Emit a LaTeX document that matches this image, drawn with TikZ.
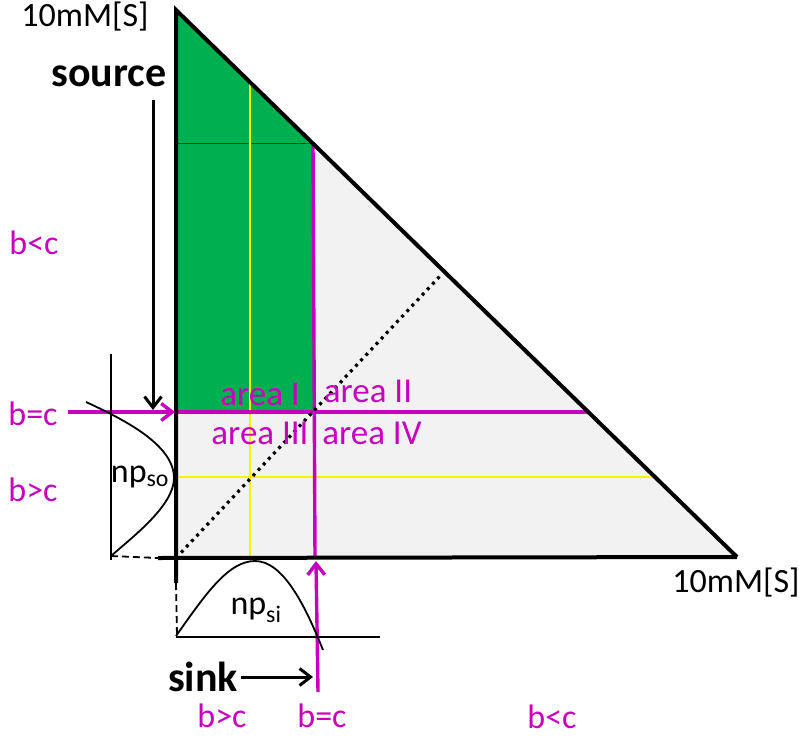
\documentclass[tikz,border=0pt]{standalone}
\usepackage{fontspec}
\setmainfont{Carlito}
\usetikzlibrary{arrows.meta}
\definecolor{areagreen}{RGB}{0,176,80}
\definecolor{bcmag}{RGB}{200,0,190}
\definecolor{lightfill}{RGB}{242,242,242}

\begin{document}
\begin{tikzpicture}[
    x=1pt, y=-1pt,
    every node/.style={font=\fontsize{34}{40}\selectfont, inner sep=0pt},
    ax/.style={line width=4pt},
    dist/.style={line width=1.8pt},
    dsh/.style={dist, dash pattern=on 7pt off 4pt},
    mag/.style={bcmag, line width=3.4pt},
    yel/.style={yellow, line width=2.6pt},
    e/.style={-{Straight Barb[length=11pt, width=17pt]}},
    lbl/.style={text=bcmag},
    area/.style={text=bcmag, font=\fontsize{35}{41}\selectfont},
    big/.style={font=\fontsize{42}{48}\selectfont\bfseries},
  ]
  \useasboundingbox (0,0) rectangle (799,738);

  % corners of the plot
  \coordinate (top) at (176,10);
  \coordinate (org) at (176,558);
  \coordinate (rgt) at (737,557);
  \coordinate (axl) at (158,558);
  \coordinate (axd) at (176,583);

  % fills
  \fill[lightfill] (top) -- (rgt) -- (org) -- cycle;
  \fill[areagreen] (top) -- (313,143.6) -- (313,412) -- (176,412) -- cycle;
  \draw[red!65!black, line width=0.7pt] (176,143.6) -- (313,143.6);

  % threshold lines
  \draw[yel] (250,82.2) -- (250,558);
  \draw[yel] (176,477) -- (655,477);
  \draw[mag] (176,412) -- (588.3,412);
  \draw[mag] (313,143.6) -- (315,558);
  \draw[line width=3.2pt, dash pattern=on 3pt off 4.5pt] (org) -- (441,275);

  % axes and hypotenuse
  \draw[ax, line join=miter] (axd) -- (top) -- (rgt);
  \draw[ax] (axl) -- (rgt);

  % source / sink arrows
  \coordinate (srcA) at (153,100);
  \coordinate (srcB) at (153,410);
  \draw[e, line width=3pt] (srcA) -- (srcB);
  \coordinate (bcA) at (68,412);
  \coordinate (bcB) at (175,412);
  \draw[e, mag] (bcA) -- (bcB);
  \coordinate (bcC) at (318,692);
  \coordinate (bcD) at (316,561);
  \draw[e, mag] (bcC) -- (bcD);
  \coordinate (snkA) at (241,677);
  \coordinate (snkB) at (313,677);
  \draw[e, line width=3pt] (snkA) -- (snkB);

  % distribution of the source
  \draw[dist] (111,354) -- (111,560);
  \draw[dist] (86,402) .. controls (125,420) and (174,445) .. (174,478)
                       .. controls (174,505) and (135,535) .. (111,556);
  \draw[dsh] (111,556) -- (axl);

  % distribution of the sink
  \draw[dist] (176,637) -- (380,637);
  \draw[dist] (176,636) .. controls (205,595) and (228,561) .. (255,561)
                        .. controls (283,561) and (305,605) .. (323,650);
  \draw[dsh] (axd) -- (177,636);

  % labels
  \node (ytop) at (85,17) {10mM[S]};
  \node (xend) at (736,583) {10mM[S]};
  \node[big] (src) at (109,76) {source};
  \node[big] (snk) at (203,677) {sink};
  \node (npso) at (140,477) {np\textsubscript{so}};
  \node (npsi) at (256,610) {np\textsubscript{si}};

  \node[lbl] (l1) at (34,243) {b<c};
  \node[lbl] (l2) at (33,414) {b=c};
  \node[lbl] (l3) at (33,490) {b>c};
  \node[lbl] (l4) at (222,716) {b>c};
  \node[lbl] (l5) at (322,716) {b=c};
  \node[lbl] (l6) at (552,717) {b<c};

  \node[area] (a1) at (260,394) {area I};
  \node[area] (a2) at (368,391) {area II};
  \node[area] (a3) at (260,433) {area III};
  \node[area] (a4) at (372,433) {area IV};
\end{tikzpicture}
\end{document}
